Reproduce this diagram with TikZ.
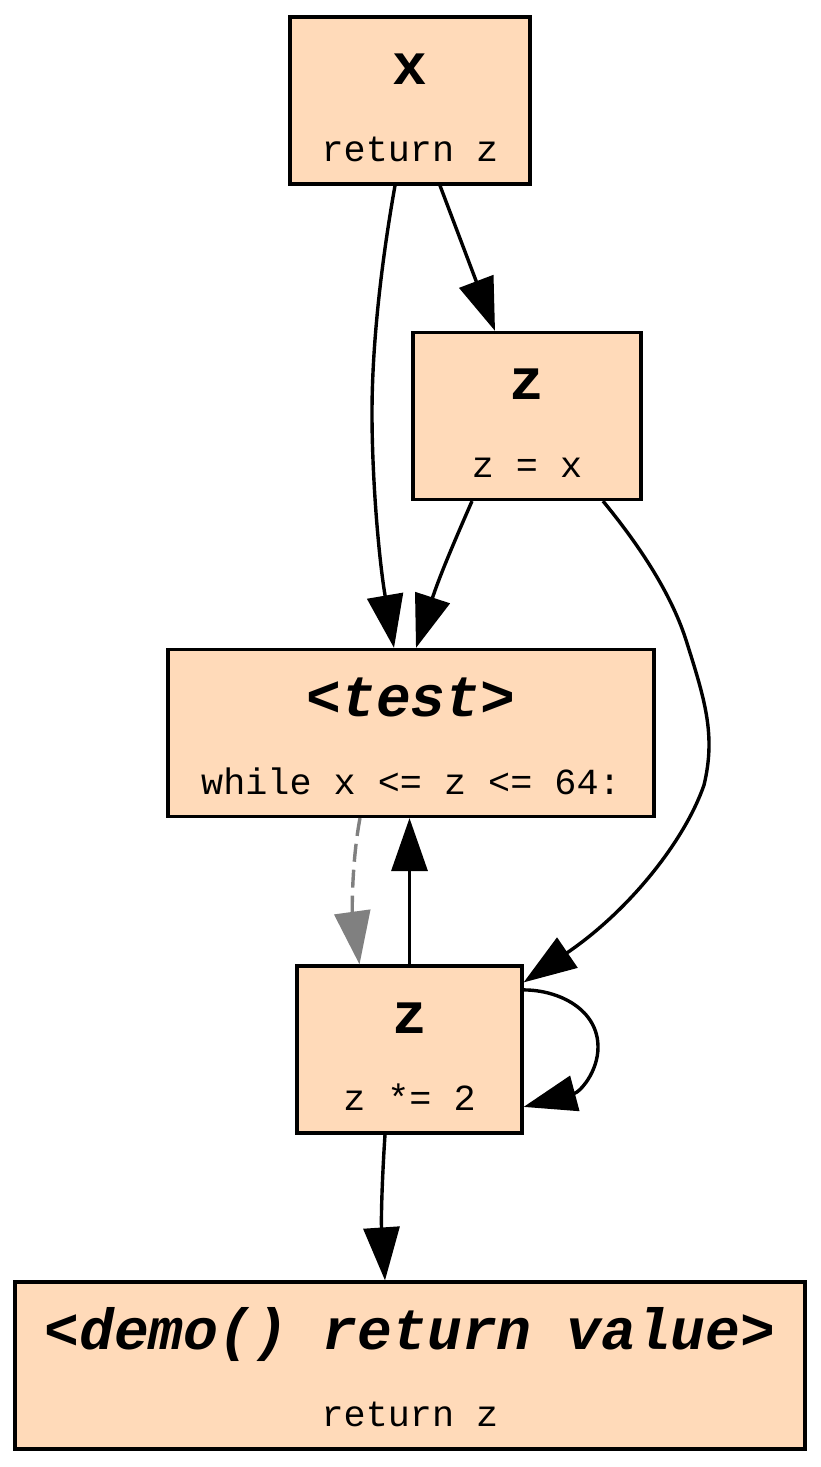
\documentclass[tikz,border=0pt]{standalone}
\usepackage{fontspec}
\setmonofont{Liberation Mono}
\usetikzlibrary{arrows.meta,calc}
\definecolor{peach}{RGB}{255,218,185}
\definecolor{dashgray}{RGB}{128,128,128}
\begin{document}
\begin{tikzpicture}[x=1pt,y=-1pt,
  blk/.style={draw=black, fill=peach, line width=3.2pt, inner sep=0pt, minimum height=167pt},
  ttl/.style={anchor=base, inner sep=0pt, font=\fontsize{58}{60}\selectfont\ttfamily\bfseries},
  ttli/.style={anchor=base, inner sep=0pt, font=\fontsize{58}{60}\selectfont\ttfamily\bfseries\itshape},
  codetxt/.style={anchor=base, inner sep=0pt, font=\fontsize{36.8}{40}\selectfont\ttfamily},
  conn/.style={line width=3.4pt, -{Triangle[length=53pt,width=36pt]}},
]
\useasboundingbox (0,0) rectangle (821,1467);

% nodes
\node[blk, minimum width=240pt] (x) at (410,100.5) {};
\node[ttl] (xt) at ($(x.center)+(0,-16.5)$) {x};
\node[codetxt] (xc) at ($(x.center)+(0,61)$) {return z};

\node[blk, minimum width=228pt] (z1) at (527,416) {};
\node[ttl] (z1t) at ($(z1.center)+(0,-16.5)$) {z};
\node[codetxt] (z1c) at ($(z1.center)+(0,61)$) {z = x};

\node[blk, minimum width=486pt] (test) at (411,733) {};
\node[ttli] (testt) at ($(test.center)+(0,-16.5)$) {<test>};
\node[codetxt] (testc) at ($(test.center)+(0,61)$) {while x <= z <= 64:};

\node[blk, minimum width=225pt] (z2) at (409.5,1049.5) {};
\node[ttl] (z2t) at ($(z2.center)+(0,-16.5)$) {z};
\node[codetxt] (z2c) at ($(z2.center)+(0,61)$) {z *= 2};

\node[blk, minimum width=790pt] (demo) at (410,1365.5) {};
\node[ttli] (demot) at ($(demo.center)+(0,-16.5)$) {<demo() return value>};
\node[codetxt] (democ) at ($(demo.center)+(0,61)$) {return z};

% connectors
\draw[conn] ($(x.south)+(-15,0)$) .. controls (380,270) and (372,350) .. (372,413)
  .. controls (372,480) and (379,560) .. ($(test.north)+(-17,0)$);
\draw[conn] ($(x.south)+(30,0)$) -- ($(z1.north)+(-32,0)$);
\draw[conn] ($(z1.south)+(-55,0)$) .. controls (455,540) and (440,575) .. ($(test.north)+(5,0)$);
\draw[conn] ($(z1.south)+(76,0)$) .. controls (635,540) and (670,590) .. (686,640)
  .. controls (705,700) and (716,735) .. (704,785)
  .. controls (685,840) and (630,910) .. ($(z2.north east)+(0,18)$);
\draw[conn, dashgray, dash pattern=on 18pt off 8pt] ($(test.south)+(-51,0)$)
  .. controls (352,860) and (352,910) .. ($(z2.north)+(-50,0)$);
\draw[conn] (z2.north) -- (z2.north |- test.south);
\draw[conn] ($(z2.north east)+(0,25.5)$) .. controls (560,990) and (598,1010) .. (598,1047)
  .. controls (598,1072) and (580,1092) .. ($(z2.north east)+(0,142.5)$);
\draw[conn] ($(z2.south)+(-24.5,0)$) .. controls (382,1180) and (381,1220) .. ($(demo.north)+(-25,0)$);
\end{tikzpicture}
\end{document}
